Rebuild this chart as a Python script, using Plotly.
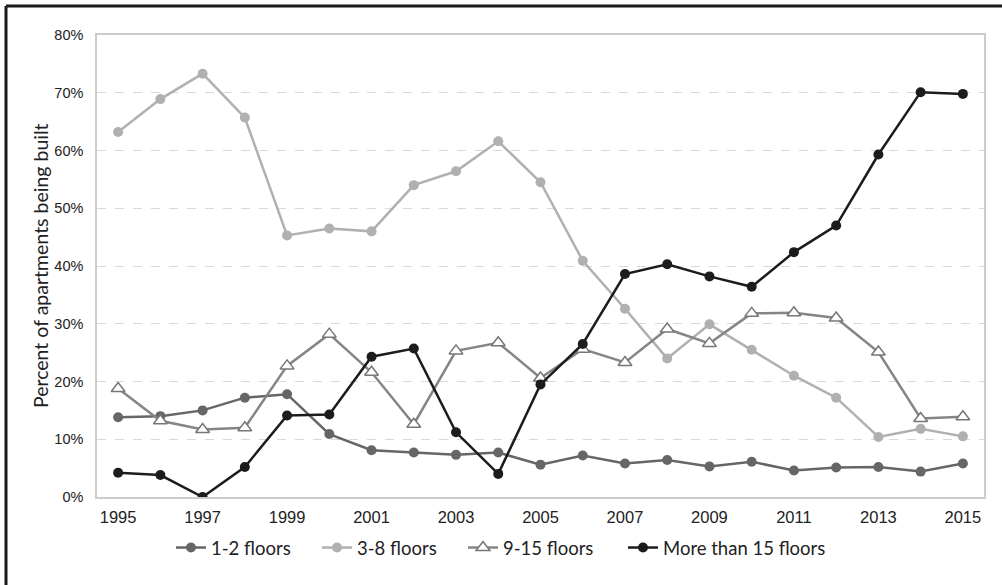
import plotly.graph_objects as go

years = [str(y) for y in range(1995, 2016)]
tick_years = [str(y) for y in range(1995, 2016, 2)]

floors_1_2 = [13.8, 14.0, 15.0, 17.2, 17.8, 10.9, 8.1, 7.7, 7.3, 7.7, 5.6, 7.2, 5.8, 6.4, 5.3, 6.1, 4.6, 5.1, 5.2, 4.4, 5.8]
floors_3_8 = [63.2, 68.9, 73.3, 65.7, 45.3, 46.5, 46.0, 54.0, 56.4, 61.6, 54.5, 40.9, 32.6, 24.0, 29.9, 25.5, 21.0, 17.2, 10.4, 11.8, 10.5]
floors_9_15 = [18.8, 13.2, 11.7, 12.0, 22.7, 28.2, 21.6, 12.6, 25.3, 26.7, 20.6, 25.6, 23.3, 29.1, 26.6, 31.8, 31.9, 31.0, 25.1, 13.6, 13.9]
floors_15_plus = [4.2, 3.8, 0.0, 5.2, 14.1, 14.3, 24.3, 25.7, 11.2, 4.0, 19.5, 26.5, 38.6, 40.3, 38.2, 36.4, 42.4, 47.0, 59.3, 70.1, 69.8]

series_names = ["1-2 floors", "3-8 floors", "9-15 floors", "More than 15 floors"]
y_ticks = [0, 10, 20, 30, 40, 50, 60, 70, 80]
y_tick_labels = [f"{v}%" for v in y_ticks]
y_title = "Percent of apartments being built"

# plot area in pixels
L, T, R, B = 97, 35, 984, 497
PW, PH = R - L, B - T

def px_x(p):
    return (p - L) / PW

def px_y(p):
    return (B - p) / PH

fig = go.Figure()
fig.add_trace(go.Scatter(x=years, y=floors_1_2, name=series_names[0], mode="lines+markers",
                         legend="legend",
                         line=dict(color="#666666", width=2.5),
                         marker=dict(symbol="circle", size=10, color="#666666")))
fig.add_trace(go.Scatter(x=years, y=floors_3_8, name=series_names[1], mode="lines+markers",
                         legend="legend2",
                         line=dict(color="#b0b0b0", width=2.5),
                         marker=dict(symbol="circle", size=10, color="#b0b0b0")))
fig.add_trace(go.Scatter(x=years, y=floors_9_15, name=series_names[2], mode="lines+markers",
                         legend="legend3",
                         line=dict(color="#858585", width=2.5),
                         marker=dict(symbol="triangle-up", size=12, color="white",
                                     line=dict(color="#777777", width=1.5))))
fig.add_trace(go.Scatter(x=years, y=floors_15_plus, name=series_names[3], mode="lines+markers",
                         legend="legend4",
                         line=dict(color="#1c1c1c", width=2.5),
                         marker=dict(symbol="circle", size=10, color="#1c1c1c")))

legend_font = dict(family="Lato, Open Sans", size=18.5, color="#222222")
def leg(px_left):
    return dict(orientation="h", x=px_x(px_left), xanchor="left", y=px_y(548), yanchor="middle",
                font=legend_font, bgcolor="rgba(0,0,0,0)", borderwidth=0)

fig.update_layout(
    width=1002, height=585,
    margin=dict(l=L, r=1002 - R, t=T, b=585 - B),
    paper_bgcolor="white", plot_bgcolor="white",
    font=dict(family="Liberation Sans, Arial", size=14, color="#222222"),
    showlegend=True,
    legend=leg(176 - 5),
    legend2=leg(322 - 5),
    legend3=leg(468 - 5),
    legend4=leg(628 - 5),
    xaxis=dict(type="category", range=[-0.5, 20.5], tickmode="array", tickvals=tick_years,
               ticktext=tick_years, showgrid=False, zeroline=False,
               showline=True, linecolor="#cccccc", linewidth=1.5, mirror=True,
               ticks="", ticklabelstandoff=4, tickfont=dict(size=16.5)),
    yaxis=dict(range=[0, 80], tickmode="array", tickvals=y_ticks, ticktext=y_tick_labels,
               showgrid=True, gridcolor="#d9d9d9", griddash="dash", gridwidth=1,
               zeroline=False, showline=True, linecolor="#cccccc", linewidth=1.5, mirror=True,
               ticks="", ticklabelstandoff=9, tickfont=dict(size=14.5)),
    annotations=[dict(text=y_title, textangle=-90, xref="paper", yref="paper",
                      x=px_x(40), y=0.5, xanchor="center", yanchor="middle",
                      showarrow=False, font=dict(family="Lato, Open Sans", size=19.5, color="#222222"))],
    shapes=[
        dict(type="line", xref="paper", yref="paper", x0=px_x(6), x1=px_x(1002),
             y0=px_y(6), y1=px_y(6), line=dict(color="#1a1a1a", width=3)),
        dict(type="line", xref="paper", yref="paper", x0=px_x(6), x1=px_x(6),
             y0=px_y(6), y1=px_y(585), line=dict(color="#1a1a1a", width=3)),
    ],
)

fig.write_html("out.html", config={"displayModeBar": False},
               post_script="document.body.style.margin='0';document.body.style.padding='0';")
